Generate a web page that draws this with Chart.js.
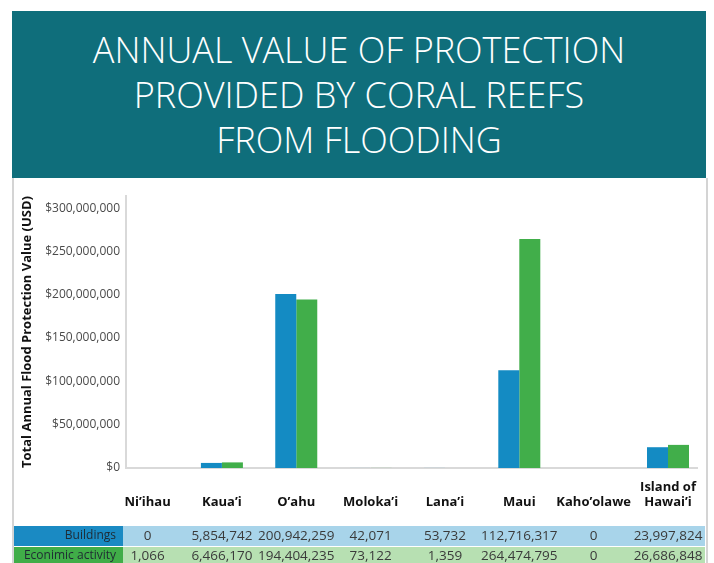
<!DOCTYPE html>
<html>
<head>
<meta charset="utf-8">
<script src="https://cdn.jsdelivr.net/npm/chart.js@4"></script>
<style>
  body { margin: 0; background: #fff; width: 714px; height: 563px; overflow: hidden; position: relative; }
  #frame { position: absolute; left: 12px; top: 178px; width: 692px; height: 385px;
           border-left: 2px solid #d4d4d4; border-right: 2px solid #d4d4d4; }
  #header { position: absolute; left: 12px; top: 11px; width: 694px; height: 167px;
            background: #0f6e7b; color: #fff; text-align: center;
            font-family: 'Open Sans', sans-serif; font-weight: 300; font-size: 36px;
            line-height: 45px; padding-top: 16px; box-sizing: border-box; }
  canvas { position: absolute; left: 0; top: 0; }
</style>
</head>
<body>
<div id="frame"></div>
<div id="header">ANNUAL VALUE OF PROTECTION<br>PROVIDED BY CORAL REEFS<br>FROM FLOODING</div>
<canvas id="reefChart" width="714" height="563"></canvas>
<script>
const categories = ['Ni\u2019ihau', 'Kaua\u2019i', 'O\u2019ahu', 'Moloka\u2019i', 'Lana\u2019i', 'Maui', 'Kaho\u2019olawe', ['Island of', 'Hawai\u2019i']];
const buildings = [0, 5854742, 200942259, 42071, 53732, 112716317, 0, 23997824];
const economic = [1066, 6466170, 194404235, 73122, 1359, 264474795, 0, 26686848];
const yTicks = [0, 50000000, 100000000, 150000000, 200000000, 250000000, 300000000];
const seriesNames = ['Buildings', 'Econimic activity'];

const blue = '#148bc3';
const green = '#41ae4a';

// table under the chart, columns follow the x scale
const tablePlugin = {
  id: 'valueTable',
  afterDraw(chart) {
    const ctx = chart.ctx;
    const x = chart.scales.x;
    const rows = [
      { name: seriesNames[0], vals: buildings, dark: '#1a8ac3', light: '#a8d4ea', top: 526, h: 20 },
      { name: seriesNames[1], vals: economic, dark: '#40ad48', light: '#b7e0b2', top: 547, h: 18 }
    ];
    ctx.save();
    rows.forEach(r => {
      ctx.fillStyle = r.dark;
      ctx.fillRect(14, r.top, 109, r.h);
      ctx.fillStyle = r.light;
      ctx.fillRect(123, r.top, 582, r.h);
      ctx.fillStyle = '#1f2a33';
      ctx.font = '12px "Open Sans"';
      ctx.textAlign = 'right';
      ctx.textBaseline = 'middle';
      ctx.fillText(r.name, 116, r.top + r.h / 2);
      ctx.fillStyle = '#3a3a3a';
      ctx.font = '13.5px "Open Sans"';
      ctx.textAlign = 'center';
      r.vals.forEach((v, i) => {
        ctx.fillText(v.toLocaleString('en-US'), x.getPixelForValue(i), r.top + r.h / 2);
      });
    });
    ctx.restore();
  }
};

Chart.defaults.font.family = "'Open Sans', sans-serif";

new Chart(document.getElementById('reefChart'), {
  type: 'bar',
  data: {
    datasets: [
      { label: seriesNames[0], data: buildings.map((v, i) => ({ x: i, y: v })), backgroundColor: blue },
      { label: seriesNames[1], data: economic.map((v, i) => ({ x: i, y: v })), backgroundColor: green }
    ]
  },
  options: {
    responsive: false,
    animation: false,
    devicePixelRatio: 1,
    categoryPercentage: 0.565,
    barPercentage: 1,
    layout: { padding: { left: 0, top: 196, right: 17, bottom: 0 } },
    plugins: { legend: { display: false }, tooltip: { enabled: false } },
    scales: {
      x: {
        type: 'linear',
        min: -0.29,
        max: 7.39,
        offset: false,
        grid: { display: false, drawTicks: false },
        border: { color: '#d9d9d9', width: 2 },
        afterBuildTicks: s => { s.ticks = categories.map((c, i) => ({ value: i })); },
        afterFit: s => { s.height = 95; },
        ticks: {
          autoSkip: false,
          maxRotation: 0,
          padding: 11,
          color: '#111',
          font: { size: 13, weight: 'bold' },
          callback: v => {
            const c = categories[v];
            return Array.isArray(c) ? c : ['', c];
          }
        }
      },
      y: {
        min: 0,
        max: 314000000,
        grid: { display: false, drawTicks: false },
        border: { color: '#d9d9d9', width: 2 },
        afterBuildTicks: s => { s.ticks = yTicks.map(v => ({ value: v })); },
        afterFit: s => { s.width = 126; },
        ticks: {
          padding: 6,
          color: '#4a4a4a',
          font: { size: 12 },
          callback: v => '$' + v.toLocaleString('en-US')
        },
        title: {
          display: true,
          text: 'Total Annual Flood Protection Value (USD)',
          color: '#111',
          font: { size: 13, weight: 'bold' },
          padding: { top: 19, bottom: 0 }
        }
      }
    }
  },
  plugins: [tablePlugin]
});
</script>
</body>
</html>
